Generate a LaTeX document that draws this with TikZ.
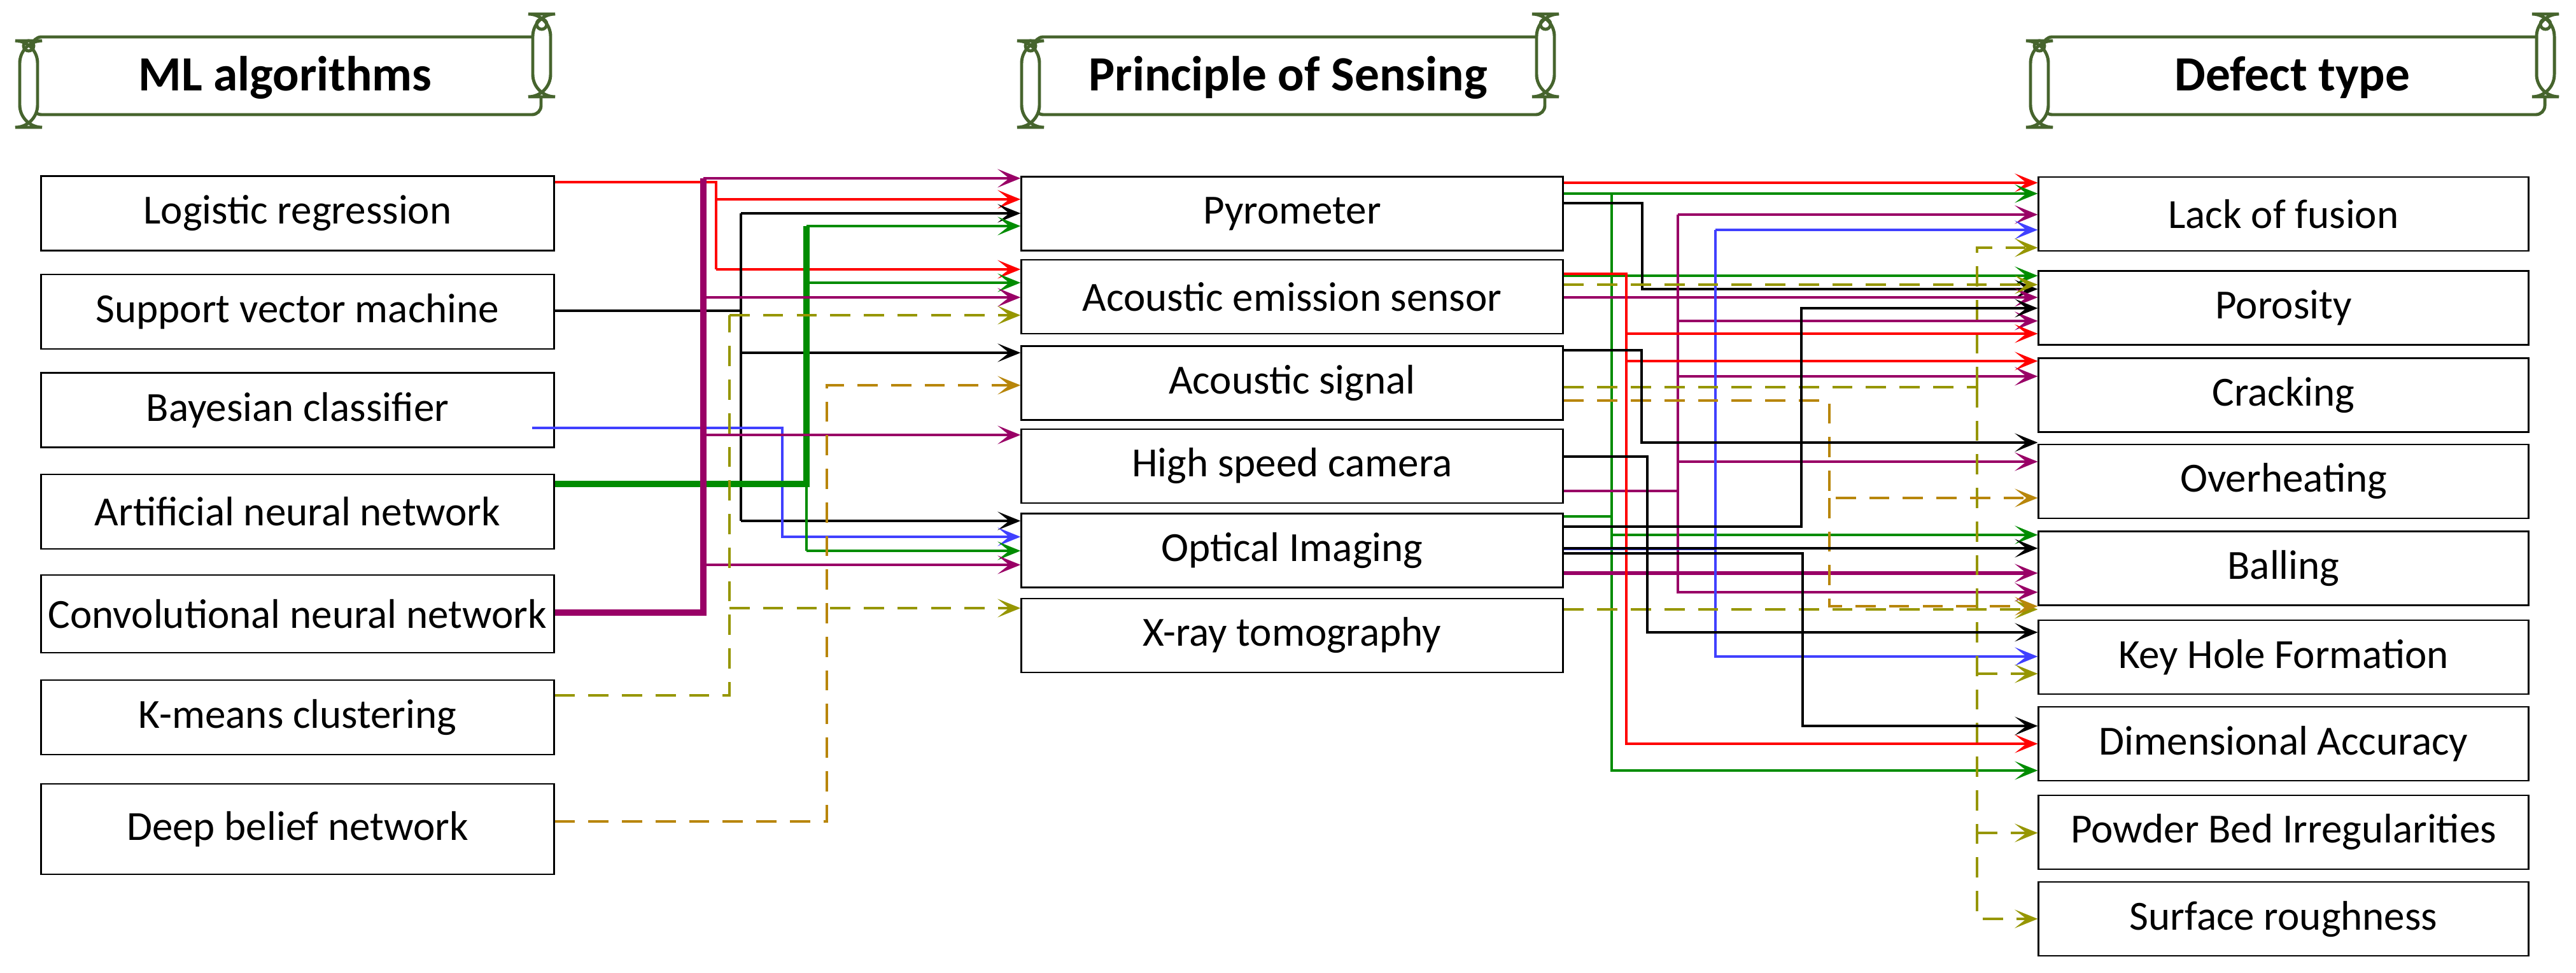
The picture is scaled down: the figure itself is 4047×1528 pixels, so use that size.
\documentclass[tikz,border=0pt]{standalone}
\usepackage{fontspec}
\setmainfont{Carlito}
\usetikzlibrary{arrows.meta}
\definecolor{olivedash}{RGB}{150,150,0}
\definecolor{golddash}{RGB}{184,134,11}
\definecolor{scrollgreen}{RGB}{70,100,45}
\def\scroll#1#2#3#4{
    \begin{scope}[draw=scrollgreen, line width=1.4pt]
        %Body
        \draw[rounded corners=4] (#1+20,58) rectangle (#2-15,180);
        %Left roll
        \draw[fill=white, rounded corners=10] (#1,64) rectangle (#1+28,200);
        \draw (#1+14,72) circle (8);
        %Right roll
        \draw[fill=white, rounded corners=10] (#2-28,22) rectangle (#2,152);
        \draw (#2-14,38) circle (8);
    \end{scope}
    \node[font=\bfseries\fontsize{22}{26}\selectfont] (#3) at ({(#1+#2)/2},122) {#4};
}
\begin{document}
\begin{tikzpicture}[x=0.01cm, y=-0.01cm,
    box/.style={draw, line width=0.8pt, inner sep=0pt, font=\fontsize{18.5}{22}\selectfont},
    lbox/.style={box, minimum width=8.05cm, minimum height=1.17cm},
    mbox/.style={box, minimum width=8.5cm, minimum height=1.16cm},
    rbox/.style={box, minimum width=7.69cm, minimum height=1.16cm},
    ln/.style={line width=1.1pt, -{Stealth[length=3.6mm, width=2.9mm, inset=1.8mm]}},
    red/.style={draw=red}, blk/.style={draw=black},
    grn/.style={draw=green!55!black}, pur/.style={draw=violet!60!purple},
    blu/.style={draw=blue!75!white}, oli/.style={draw=olivedash, dashed, dash pattern=on 9pt off 6pt},
    brn/.style={draw=golddash, dashed, dash pattern=on 9pt off 6pt}]
    \useasboundingbox (0,0) rectangle (4047,1528);

    % Headers
    \scroll{31}{865}{hml}{ML algorithms}
    \scroll{1605}{2442}{hps}{Principle of Sensing}
    \scroll{3190}{4013}{hdt}{Defect type}

    % ML algorithms
    \node[lbox] (lr)  at (467.5,335)   {Logistic regression};
    \node[lbox] (svm) at (467.5,489.5) {Support vector machine};
    \node[lbox] (bc)  at (467.5,644)   {Bayesian classifier};
    \node[lbox] (ann) at (467.5,803.5) {Artificial neural network};
    \node[lbox, minimum height=1.22cm] (cnn) at (467.5,964) {Convolutional neural network};
    \node[lbox] (km)  at (467.5,1126.5) {K-means clustering};
    \node[lbox, minimum height=1.42cm] (dbn) at (467.5,1302) {Deep belief network};

    % Sensing
    \node[mbox] (pyro) at (2030,335.5) {Pyrometer};
    \node[mbox] (ae)   at (2030,466)   {Acoustic emission sensor};
    \node[mbox] (as)   at (2030,601.5) {Acoustic signal};
    \node[mbox] (hsc)  at (2030,732)   {High speed camera};
    \node[mbox] (oi)   at (2030,864.5) {Optical Imaging};
    \node[mbox] (xr)   at (2030,998)   {X-ray tomography};

    % Defects
    \node[rbox] (lof) at (3587.5,336)  {Lack of fusion};
    \node[rbox] (por) at (3587.5,483.5) {Porosity};
    \node[rbox] (crk) at (3587.5,620.5) {Cracking};
    \node[rbox] (ovh) at (3587.5,756)  {Overheating};
    \node[rbox] (bal) at (3587.5,892.5) {Balling};
    \node[rbox] (kh)  at (3587.5,1032) {Key Hole Formation};
    \node[rbox] (da)  at (3587.5,1168) {Dimensional Accuracy};
    \node[rbox] (pb)  at (3587.5,1307) {Powder Bed Irregularities};
    \node[rbox] (sr)  at (3587.5,1443) {Surface roughness};

    % Algorithms to sensing
    \draw[red, line width=1.1pt] (lr.east|-0,286) -| (1125,423);
    \foreach \y/\n in {313/pyro,423/ae} \draw[ln, red] (1125,\y) -- (\n.west|-0,\y);
    \draw[blk, line width=1.1pt] (svm.east|-0,488) -| (1164,335);
    \draw[blk, line width=1.1pt] (1164,488) -- (1164,818);
    \foreach \y/\n in {335/pyro,554/as,818/oi} \draw[ln, blk] (1164,\y) -- (\n.west|-0,\y);
    \draw[ln, blu] ([xshift=-10]bc.east|-0,672) -| (1229,843) -- (oi.west|-0,843);
    \draw[grn, line width=2.6pt] (ann.east|-0,760) -| (1267,355);
    \draw[grn, line width=1.3pt] (1267,760) -- (1267,865);
    \foreach \y/\n in {355/pyro,444/ae,865/oi} \draw[ln, grn, line width=1.3pt] (1267,\y) -- (\n.west|-0,\y);
    \draw[pur, line width=2.8pt] (cnn.east|-0,962) -| (1105,280);
    \foreach \y/\n in {280/pyro,467/ae,683/hsc,887/oi} \draw[ln, pur, line width=1.4pt] (1105,\y) -- (\n.west|-0,\y);
    \draw[oli, line width=1.3pt] (km.east|-0,1092) -| (1146,495);
    \foreach \y/\n in {495/ae,955/xr} \draw[ln, oli, line width=1.3pt] (1146,\y) -- (\n.west|-0,\y);
    \draw[ln, brn] (dbn.east|-0,1290) -| (1299,605) -- (as.west|-0,605);

    % Sensing to defects
    \draw[ln, red] (pyro.east|-0,287) -- (lof.west|-0,287);
    \draw[ln, grn] (pyro.east|-0,304) -- (lof.west|-0,304);
    \draw[ln, grn] (2532,304) |- (da.west|-0,1210);
    \draw[grn, line width=1.1pt] (oi.east|-0,811) -- (2532,811);
    \draw[ln, grn] (2532,840) -- (bal.west|-0,840);
    \draw[ln, grn] (ae.east|-0,433) -- (por.west|-0,433);
    \draw[ln, blk] (pyro.east|-0,319) -| (2580,454) -- (por.west|-0,454);
    \draw[pur, line width=1.3pt] (hsc.east|-0,771) -| (2636,337);
    \foreach \y/\n in {337/lof,504/por,591/crk,725/ovh} \draw[ln, pur, line width=1.3pt] (2636,\y) -- (\n.west|-0,\y);
    \draw[ln, pur, line width=1.3pt] (2636,771) |- (bal.west|-0,930);
    \draw[ln, pur, line width=1.5pt] (oi.east|-0,900) -- (bal.west|-0,900);
    \draw[ln, pur] (ae.east|-0,467) -- (por.west|-0,467);
    \draw[blu, line width=1.1pt] (oi.east|-0,862) -| (2695,361);
    \draw[ln, blu] (2695,361) -- (lof.west|-0,361);
    \draw[ln, blu] (2695,862) |- (kh.west|-0,1031);
    \draw[oli, line width=1.4pt] (as.east|-0,608) -- (3106,608);
    \draw[ln, oli, line width=1.4pt] (3106,608) |- (lof.west|-0,389);
    \draw[ln, oli, line width=1.4pt] (3106,608) |- (sr.west|-0,1443);
    \foreach \y/\n in {1058/kh,1308/pb} \draw[ln, oli, line width=1.4pt] (3106,\y) -- (\n.west|-0,\y);
    \draw[ln, oli, line width=1.4pt] (ae.east|-0,447) -- (por.west|-0,447);
    \draw[ln, oli, line width=1.4pt] (xr.east|-0,957) -- (bal.west|-0,957);
    \draw[ln, brn] (as.east|-0,629) -| (2874,782) -- (ovh.west|-0,782);
    \draw[ln, brn] (2874,782) |- (bal.west|-0,952);
    \draw[ln, red] (ae.east|-0,430) -| (2555,524) -- (por.west|-0,524);
    \draw[ln, red] (2555,567) -- (crk.west|-0,567);
    \draw[ln, red] (2555,524) |- (da.west|-0,1168);
    \draw[ln, blk] (as.east|-0,550) -| (2579,695) -- (ovh.west|-0,695);
    \draw[ln, blk] (hsc.east|-0,717) -| (2588,993) -- (kh.west|-0,993);
    \draw[ln, blk] (oi.east|-0,827) -| (2830,484) -- (por.west|-0,484);
    \draw[ln, blk] (oi.east|-0,861) -- (bal.west|-0,861);
    \draw[ln, blk] (oi.east|-0,869) -| (2832,1140) -- (da.west|-0,1140);
\end{tikzpicture}
\end{document}
